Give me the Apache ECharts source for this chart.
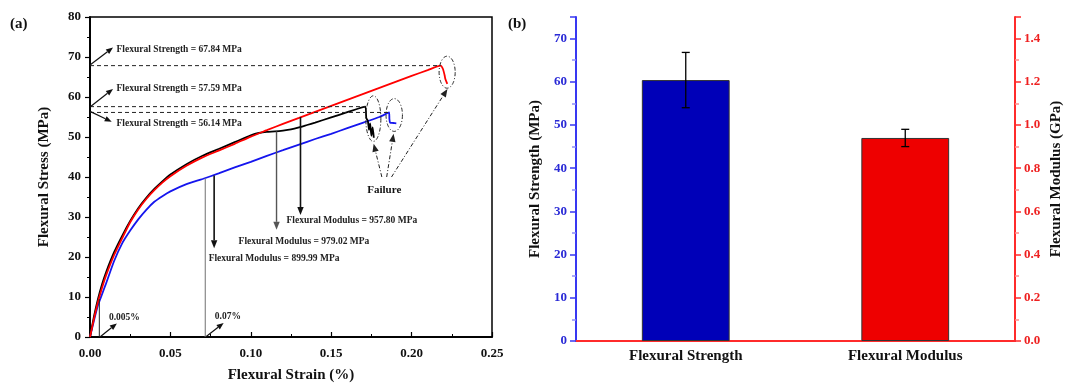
<!DOCTYPE html>
<html><head><meta charset="utf-8">
<script src="https://cdn.jsdelivr.net/npm/echarts@6/dist/echarts.min.js"></script>
<style>html,body{margin:0;padding:0;background:#fff}#c{width:1066px;height:388px}</style>
</head><body><div id="c"></div>
<script>
// ---------- Panel (a) data: [strain %, stress MPa] ----------
const redCurve = [[0,0],[0.0025,4.6],[0.005,8.8],[0.0075,12.3],[0.01,15.4],[0.015,20.5],[0.02,24.7],[0.025,28.7],[0.03,31.9],[0.035,34.5],[0.04,36.7],[0.045,38.6],[0.05,40.2],[0.06,42.8],[0.07,44.9],[0.08,46.6],[0.09,48.3],[0.10,50.1],[0.11,51.7],[0.12,53.3],[0.13,54.8],[0.14,56.3],[0.15,57.8],[0.16,59.3],[0.17,60.8],[0.18,62.3],[0.19,63.8],[0.20,65.3],[0.21,66.7],[0.218,67.84],[0.2195,67.0],[0.2205,65.5],[0.221,64.5],[0.2222,63.3]];
const blackCurve = [[0,0],[0.0025,5.2],[0.005,9.6],[0.0075,13.2],[0.01,16.2],[0.015,21.2],[0.02,25.3],[0.025,29.0],[0.03,32.2],[0.035,34.8],[0.04,37.0],[0.045,38.9],[0.05,40.6],[0.06,43.2],[0.07,45.3],[0.08,47.0],[0.09,48.7],[0.10,50.4],[0.105,51.0],[0.11,51.3],[0.115,51.4],[0.12,51.6],[0.125,51.9],[0.13,52.4],[0.135,53.0],[0.14,53.6],[0.15,54.9],[0.16,56.2],[0.1712,57.59],[0.1718,54.8],[0.1728,54.0],[0.1735,51.8],[0.1742,53.4],[0.175,50.3],[0.1758,52.4],[0.1765,49.8]];
const blueCurve = [[0,0],[0.0025,4.2],[0.005,8.0],[0.0075,10.7],[0.01,13.4],[0.015,19.0],[0.02,23.4],[0.025,26.6],[0.03,29.4],[0.035,31.8],[0.04,33.8],[0.045,35.2],[0.05,36.4],[0.06,38.2],[0.07,39.5],[0.08,40.9],[0.09,42.4],[0.10,43.8],[0.11,45.3],[0.12,46.7],[0.13,48.1],[0.14,49.5],[0.15,50.8],[0.16,52.2],[0.17,53.6],[0.18,55.0],[0.186,56.14],[0.1862,54.5],[0.1866,53.6],[0.1885,53.5],[0.1905,53.4]];
const strengthPeaks = [[0.218,67.84],[0.1712,57.59],[0.186,56.14]];
const xTicksA = [0,0.05,0.10,0.15,0.20,0.25];
const yTicksA = [0,10,20,30,40,50,60,70,80];

// annotation anchors (data coordinates)
const strengthArrows = [[0,68.0,0.0143,72.4],[0,57.5,0.0143,62.0],[0,56.4,0.0135,53.8]];
const strainArrows = [[0.0062,0,0.0167,3.4],[0.0719,0,0.0831,3.5]];
const strainMarkers = [[0.0058,0,0.0058,9.5]];
const strainMarkersGray = [[0.0717,0,0.0717,39.6]];
const modulusArrowsBlack = [[0.0772,40.4,0.0772,22.2],[0.1309,55.0,0.1309,30.5]];
const modulusArrowsGray = [[0.1160,51.4,0.1160,26.8]];
const failureArrows = [[0.1815,40.0,0.1764,48.3],[0.1845,40.0,0.1888,50.8],[0.1875,40.0,0.2223,62.0]];
const failureEllipses = [[0.1762,54.6,0.0047,5.7],[0.1892,55.5,0.0051,4.1],[0.2221,66.2,0.0050,4.0]];
const labelTexts = ['Flexural Strength = 67.84 MPa','Flexural Strength = 57.59 MPa','Flexural Strength = 56.14 MPa','0.005%','0.07%','Flexural Modulus = 957.80 MPa','Flexural Modulus = 979.02 MPa','Flexural Modulus = 899.99 MPa'];
const labelPos = [[0.0165,71.9],[0.0165,62.0],[0.0165,53.4],[0.0118,4.9],[0.0776,5.2],[0.1222,29.0],[0.0924,23.9],[0.0738,19.7]];
const failureText = ['Failure'];
const failurePos = [[0.183,36.7]];

// ---------- Panel (b) data ----------
const barCategories = ['Flexural Strength','Flexural Modulus'];
const strengthMean = 60.4, strengthErr = 6.4;   // MPa
const modulusMean = 0.94, modulusErr = 0.04;    // GPa
const yTicksBLeft = [0,10,20,30,40,50,60,70];
const yTicksBRight = [0,0.2,0.4,0.6,0.8,1.0,1.2,1.4];

const SERIF = '"Liberation Serif", "DejaVu Serif", serif';

function segSeries(data, color, width, dash, head) {
  return {
    type:'custom', xAxisIndex:0, yAxisIndex:0, data:data, silent:true, z:6, clip:false,
    renderItem:function(params, api){
      const p1 = api.coord([api.value(0), api.value(1)]);
      const p2 = api.coord([api.value(2), api.value(3)]);
      const dx = p2[0]-p1[0], dy = p2[1]-p1[1];
      const len = Math.hypot(dx,dy) || 1;
      const ux = dx/len, uy = dy/len;
      const children = [];
      if (head > 0) {
        const hw = head*0.4;
        const bx = p2[0]-ux*head, by = p2[1]-uy*head;
        children.push({type:'line', shape:{x1:p1[0],y1:p1[1],x2:bx,y2:by}, style:{stroke:color,lineWidth:width,lineDash:dash||null}});
        children.push({type:'polygon', shape:{points:[[p2[0],p2[1]],[bx-uy*hw,by+ux*hw],[bx+uy*hw,by-ux*hw]]}, style:{fill:color}});
      } else {
        children.push({type:'line', shape:{x1:p1[0],y1:p1[1],x2:p2[0],y2:p2[1]}, style:{stroke:color,lineWidth:width,lineDash:dash||null}});
      }
      return {type:'group', children:children};
    }
  };
}
function textSeries(pos, texts, font, align, color) {
  return {
    type:'custom', xAxisIndex:0, yAxisIndex:0, data:pos, silent:true, z:7, clip:false,
    renderItem:function(params, api){
      const p = api.coord([api.value(0), api.value(1)]);
      return {type:'text', x:p[0], y:p[1], style:{text:texts[params.dataIndex], font:font, fill:color, align:align, verticalAlign:'middle'}};
    }
  };
}
const ellipseSeries = {
  type:'custom', xAxisIndex:0, yAxisIndex:0, data:failureEllipses, silent:true, z:6, clip:false,
  renderItem:function(params, api){
    const c = api.coord([api.value(0), api.value(1)]);
    const s = api.size([api.value(2), api.value(3)]);
    const pts = [];
    for (let i=0;i<=72;i++){ const t=i/72*Math.PI*2; pts.push([c[0]+s[0]*Math.cos(t), c[1]+s[1]*Math.sin(t)]); }
    return {type:'polyline', shape:{points:pts}, style:{stroke:'#222', lineWidth:1, fill:null, lineDash:[4,2,1,2]}};
  }
};
function errSeries(yIdx, data) {
  return {
    type:'custom', xAxisIndex:2, yAxisIndex:yIdx, data:data, silent:true, z:8,
    renderItem:function(params, api){
      const lo = api.coord([api.value(0), api.value(1)]);
      const hi = api.coord([api.value(0), api.value(2)]);
      const w = 4;
      const st = {stroke:'#000', lineWidth:1.3};
      return {type:'group', children:[
        {type:'line', shape:{x1:lo[0],y1:lo[1],x2:hi[0],y2:hi[1]}, style:st},
        {type:'line', shape:{x1:lo[0]-w,y1:lo[1],x2:lo[0]+w,y2:lo[1]}, style:st},
        {type:'line', shape:{x1:hi[0]-w,y1:hi[1],x2:hi[0]+w,y2:hi[1]}, style:st}
      ]};
    }
  };
}

const lblA = {fontFamily:SERIF, fontWeight:'bold', fontSize:13, color:'#111'};
const blueAx = '#3838f2', redAx = '#ff2b2b';

const option = {
  animation:false,
  backgroundColor:'#fff',
  graphic:[
    {type:'text', left:10, top:17, style:{text:'(a)', font:'bold 15px '+SERIF, fill:'#111'}},
    {type:'text', left:508, top:17, style:{text:'(b)', font:'bold 15px '+SERIF, fill:'#111'}}
  ],
  grid:[
    {left:90, right:574, top:17, bottom:46, show:true, borderColor:'#000', borderWidth:1.5},
    {left:576, right:51, top:17, bottom:47}
  ],
  xAxis:[
    {type:'value', gridIndex:0, min:0, max:0.25, interval:0.05,
     name:'Flexural Strain (%)', nameLocation:'middle', nameGap:31,
     nameTextStyle:{fontFamily:SERIF, fontWeight:'bold', fontSize:15, color:'#111'},
     axisLine:{lineStyle:{color:'#000', width:1.5}},
     axisTick:{inside:true, length:5, lineStyle:{color:'#000', width:1.2}},
     minorTick:{show:true, splitNumber:2, length:3, lineStyle:{color:'#000', width:1}},
     splitLine:{show:false},
     axisLabel:Object.assign({margin:10, formatter:v=>v.toFixed(2)}, lblA)},
    {type:'value', gridIndex:0, min:0, max:0.25, position:'top',
     axisLine:{lineStyle:{color:'#000', width:1.5}}, axisTick:{show:false}, axisLabel:{show:false}, splitLine:{show:false}},
    {type:'category', gridIndex:1, data:barCategories, position:'bottom',
     axisLine:{lineStyle:{color:blueAx, width:2}}, axisTick:{show:false},
     axisLabel:{fontFamily:SERIF, fontWeight:'bold', fontSize:15, color:'#111', margin:8}},
    {type:'category', gridIndex:1, data:barCategories, position:'top',
     axisLine:{lineStyle:{color:redAx, width:2}}, axisTick:{show:false}, axisLabel:{show:false}}
  ],
  yAxis:[
    {type:'value', gridIndex:0, min:0, max:80, interval:10,
     name:'Flexural Stress (MPa)', nameLocation:'middle', nameGap:38, nameRotate:90,
     nameTextStyle:{fontFamily:SERIF, fontWeight:'bold', fontSize:15, color:'#111'},
     axisLine:{lineStyle:{color:'#000', width:1.5}},
     axisTick:{inside:false, length:5, lineStyle:{color:'#000', width:1.2}},
     minorTick:{show:true, splitNumber:2, length:3, lineStyle:{color:'#000', width:1}},
     splitLine:{show:false},
     axisLabel:Object.assign({margin:9}, lblA)},
    {type:'value', gridIndex:0, min:0, max:80, position:'right',
     axisLine:{show:true, lineStyle:{color:'#000', width:1.5}}, axisTick:{show:false}, axisLabel:{show:false}, splitLine:{show:false}},
    {type:'value', gridIndex:1, min:0, max:75, interval:10, position:'left',
     name:'Flexural Strength (MPa)', nameLocation:'middle', nameGap:33, nameRotate:90,
     nameTextStyle:{fontFamily:SERIF, fontWeight:'bold', fontSize:15, color:'#111'},
     axisLine:{show:true, lineStyle:{color:blueAx, width:2}},
     axisTick:{show:true, length:6, lineStyle:{color:blueAx, width:1.5}},
     minorTick:{show:true, splitNumber:2, length:4, lineStyle:{color:'#8f8ff7', width:1.5}},
     splitLine:{show:false},
     axisLabel:{showMaxLabel:false, margin:9, fontFamily:SERIF, fontWeight:'bold', fontSize:13, color:'#2a2ad6'}},
    {type:'value', gridIndex:1, min:0, max:1.5, interval:0.2, position:'right',
     name:'Flexural Modulus (GPa)', nameLocation:'middle', nameGap:34, nameRotate:90,
     nameTextStyle:{fontFamily:SERIF, fontWeight:'bold', fontSize:15, color:'#111'},
     axisLine:{show:true, lineStyle:{color:redAx, width:2}},
     axisTick:{show:true, length:6, lineStyle:{color:redAx, width:1.5}},
     minorTick:{show:true, splitNumber:2, length:4, lineStyle:{color:'#ff8f8f', width:1.5}},
     splitLine:{show:false},
     axisLabel:{showMaxLabel:false, margin:9, fontFamily:SERIF, fontWeight:'bold', fontSize:13, color:'#ee2020', formatter:v=>v.toFixed(1)}}
  ],
  series:[
    {type:'line', xAxisIndex:0, yAxisIndex:0, data:blueCurve, showSymbol:false, smooth:0.2, lineStyle:{color:'#1515ee', width:1.8}, z:3},
    {type:'line', xAxisIndex:0, yAxisIndex:0, data:blackCurve, showSymbol:false, smooth:0.2, lineStyle:{color:'#000', width:1.8}, z:3},
    {type:'line', xAxisIndex:0, yAxisIndex:0, data:redCurve, showSymbol:false, smooth:0.2, lineStyle:{color:'#ff0000', width:1.8}, z:4},
    segSeries(strengthPeaks.map(p=>[0,p[1],p[0],p[1]]), '#222', 1, [4,3], 0),
    segSeries(strengthArrows, '#111', 1.2, null, 7),
    segSeries(strainMarkers, '#222', 1, null, 0),
    segSeries(strainMarkersGray, '#888', 1.2, null, 0),
    segSeries(strainArrows, '#111', 1.2, null, 7),
    segSeries(modulusArrowsBlack, '#111', 1.6, null, 8),
    segSeries(modulusArrowsGray, '#555', 1.4, null, 8),
    segSeries(failureArrows, '#222', 1, [4,2,1,2], 8),
    ellipseSeries,
    textSeries(labelPos, labelTexts, 'bold 9.5px '+SERIF, 'left', '#222'),
    textSeries(failurePos, failureText, 'bold 11px '+SERIF, 'center', '#111'),
    {type:'bar', xAxisIndex:2, yAxisIndex:2, data:[strengthMean,'-'], barWidth:'40%', barGap:'-100%',
     itemStyle:{color:'#0000b8', borderColor:'#333', borderWidth:1}},
    {type:'bar', xAxisIndex:2, yAxisIndex:3, data:['-',modulusMean], barWidth:'40%', barGap:'-100%',
     itemStyle:{color:'#ee0000', borderColor:'#333', borderWidth:1}},
    errSeries(2, [[0, strengthMean-strengthErr, strengthMean+strengthErr]]),
    errSeries(3, [[1, modulusMean-modulusErr, modulusMean+modulusErr]])
  ]
};
echarts.init(document.getElementById('c'), null, {renderer:'canvas'}).setOption(option);
</script></body></html>
